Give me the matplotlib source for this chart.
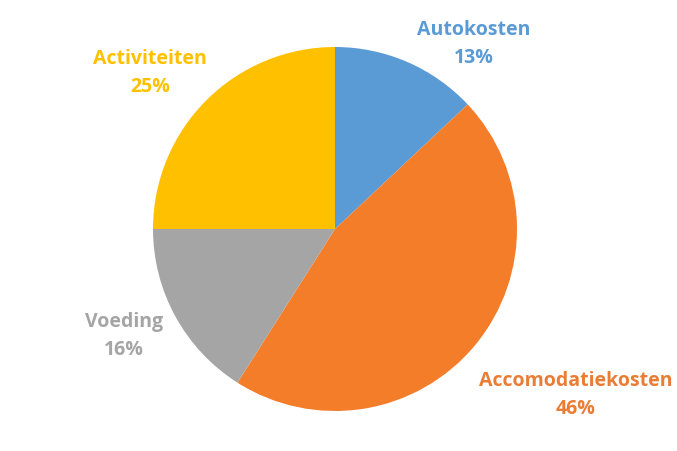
import matplotlib
matplotlib.use("Agg")
import matplotlib.pyplot as plt

categories = ["Autokosten", "Accomodatiekosten", "Voeding", "Activiteiten"]
values = [13, 46, 16, 25]
pct_labels = ["13%", "46%", "16%", "25%"]
colors = ["#5B9BD5", "#F47D2A", "#A5A5A5", "#FFC000"]
label_colors = ["#5B9BD5", "#E97D35", "#A5A5A5", "#FFC000"]

W, H = 677, 452
fig = plt.figure(figsize=(W / 100, H / 100), dpi=100)
# pie center at pixel (335, 230), radius 182
cx, cy, r = 335, 230, 182
ax = fig.add_axes([(cx - r) / W, 1 - (cy + r) / H, 2 * r / W, 2 * r / H])
ax.pie(values, colors=colors, startangle=90, counterclock=False,
       wedgeprops=dict(linewidth=0), radius=1.0)
ax.set_xlim(-1, 1)
ax.set_ylim(-1, 1)
ax.set_aspect("equal")
ax.axis("off")

# label anchor positions (pixel centers of the two-line labels)
label_px = [(474, 44), (576, 395), (124, 336), (150, 73)]
for name, pct, col, (px, py) in zip(categories, pct_labels, label_colors, label_px):
    fig.text(px / W, 1 - py / H, f"{name}\n{pct}", ha="center", va="center",
             color=col, fontsize=14, fontweight="bold", family=["Open Sans", "DejaVu Sans"],
             linespacing=1.55)

fig.savefig("out.png", dpi=100, facecolor="white")
